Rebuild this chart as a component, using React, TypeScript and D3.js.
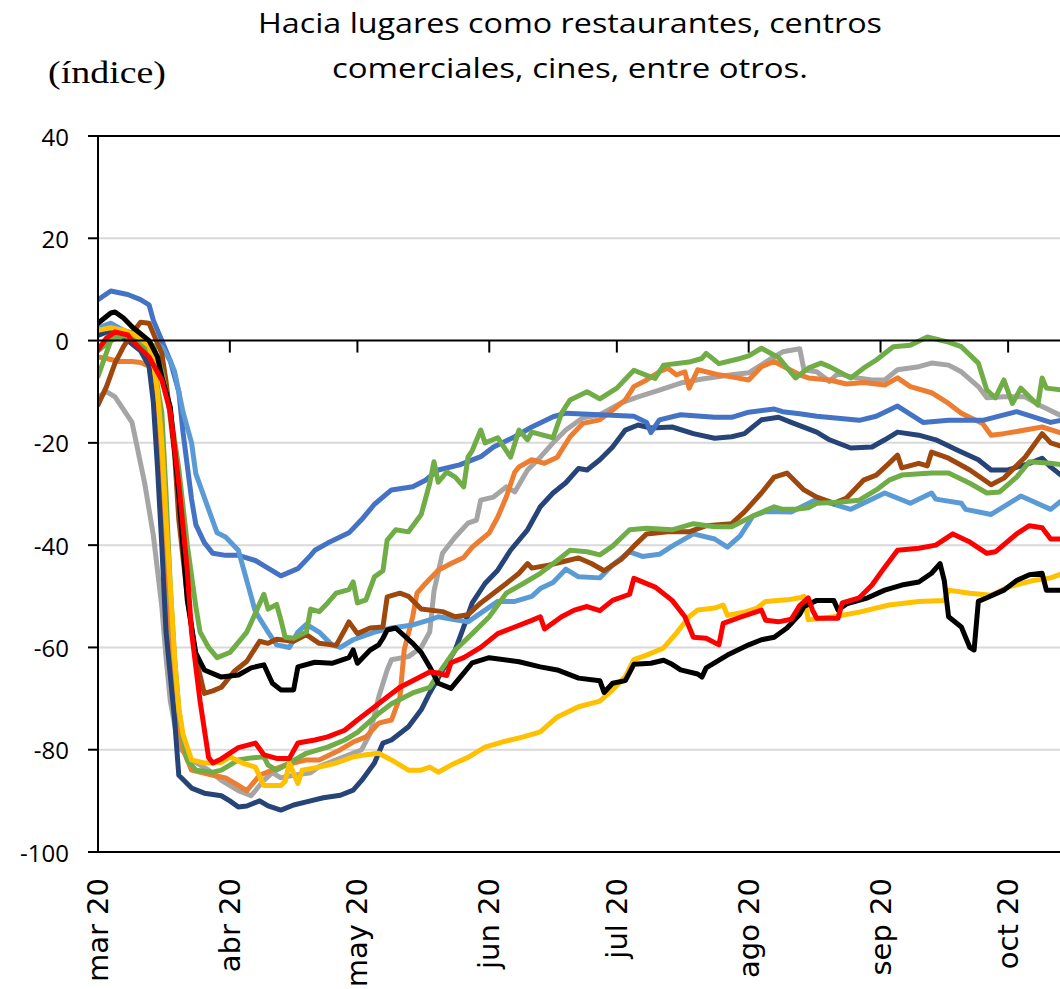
import React from 'react';
import * as d3 from 'd3';

type Pt = [number, number];

const START = Date.UTC(2020, 2, 1);
const LAST_DAY = 226.2;
const monthLabels = ['mar 20', 'abr 20', 'may 20', 'jun 20', 'jul 20', 'ago 20', 'sep 20', 'oct 20'];
const yTicks = [40, 20, 0, -20, -40, -60, -80, -100];
const gridValues = [20, -20, -40, -60, -80];
const solidValues = [40, 0, -100];
const titleLines = ['Hacia lugares como restaurantes, centros', 'comerciales, cines, entre otros.'];
const unitLabel = '(índice)';

const blue: Pt[] = [[0,8],[3,9.7],[7,9],[10,8],[12,7],[13,4],[15,0],[17,-4],[19,-10],[20,-18],[22,-31],[23,-36],[25,-39.5],[27,-41.6],[30,-42],[33,-42],[37,-43],[39,-44],[43,-46],[47,-44.6],[50,-42],[51,-41],[54,-39.6],[59,-37.6],[62,-35],[65,-32],[69,-29.2],[74,-28.6],[77,-27.3],[80,-25.3],[85,-24.3],[90,-22.7],[93,-20.8],[98,-18.8],[102,-16.9],[107,-14.9],[110,-14.2],[118,-14.5],[126,-14.8],[129,-16],[130,-18],[132,-15.5],[137,-14.5],[145,-15],[149,-15],[153,-14],[159,-13.4],[161,-13.9],[165,-14.3],[169,-14.8],[179,-15.6],[183,-14.8],[188,-12.8],[194,-16],[200,-15.6],[208,-15.6],[216,-13.9],[224,-16],[227,-15.5]];

const lightBlue: Pt[] = [[0,2.5],[3,3.4],[6,2],[9,0],[12,-1],[15,-1.2],[17,-4],[18,-6],[20,-14],[22,-20],[23,-26],[26,-33],[28,-37.6],[30,-38.4],[33,-41],[35,-47],[37,-53],[40,-57],[42,-59.5],[45,-60],[47,-57],[49,-55.5],[52,-57],[55,-59.5],[57,-60],[60,-58.5],[65,-57],[69,-56.2],[74,-55.6],[78,-54.6],[80,-54],[84,-54.6],[87,-55],[91,-52.7],[94,-51],[98,-51],[102,-50],[104,-48.5],[107,-47.3],[110,-44.7],[113,-46.2],[118,-46.4],[121,-43.9],[125,-41.3],[128,-42.2],[132,-41.8],[135,-40.2],[140,-37.8],[145,-38.8],[148,-40.4],[151,-38.2],[154,-34.3],[157,-33.4],[163,-33.5],[169,-31],[177,-33],[185,-29.8],[191,-31.8],[196,-29.8],[197,-31],[203,-31.8],[204,-33],[210,-34],[217,-30.4],[224,-33],[227,-31]];

const greenTop: Pt[] = [[0,-7],[3,0],[6,2],[8,1.5],[11,0],[13,-1],[15,-6],[17,-14],[19,-25],[21,-40],[23,-52],[24,-57],[26,-60],[28,-62],[31,-61],[33,-59],[35,-57],[37,-53.3],[39,-49.6],[40,-52.5],[42,-51.6],[43,-54.6],[44,-58],[46,-58.2],[49,-57],[50,-52.5],[52,-53],[54,-51.3],[56,-49.4],[59,-48.7],[60,-47.2],[61,-51.3],[63,-50.7],[65,-46.2],[67,-45],[68,-39],[70,-37],[73,-37.4],[76,-34],[78,-27.9],[79,-23.7],[80,-27.7],[82,-25.7],[84,-26.7],[86,-28.6],[87,-22.8],[88,-21.5],[90,-17.5],[91,-20],[94,-19],[97,-22.8],[99,-17.5],[101,-19.4],[102,-17.9],[107,-19],[109,-14.2],[111,-11.6],[115,-10],[118,-11.4],[122,-9.3],[126,-5.8],[129,-6.8],[131,-7.4],[133,-4.8],[139,-4.2],[142,-3.5],[143,-2.5],[146,-4.5],[151,-3.5],[153,-3],[156,-1.5],[160,-3.3],[164,-7.3],[167,-5.4],[170,-4.4],[172,-5.1],[177,-7.3],[180,-5.4],[183,-3.8],[187,-1.2],[191,-0.9],[195,0.7],[200,-0.3],[203,-1.2],[207,-4.4],[209,-9.7],[211,-11.2],[213,-7.7],[215,-12.3],[217,-9.3],[219,-11],[221,-12.6],[222,-7.3],[223,-9.3],[227,-9.7]];

const gray: Pt[] = [[0,-11],[2,-10],[4,-11],[6,-13.5],[8,-16],[9,-20],[10,-24],[11,-28],[12,-33],[13,-38],[14,-45],[15,-52],[16,-62],[17,-70.5],[19,-79.5],[22,-82],[26,-84],[29,-86],[33,-88],[36,-89],[38,-87],[39,-86],[41,-84.5],[43,-85.5],[46,-85],[50,-84.5],[52,-83.3],[56,-82],[59,-81],[62,-80],[64,-76.8],[66,-69.7],[68,-64.4],[69,-62.4],[73,-61.8],[76,-60],[78,-57],[79,-49],[81,-41.6],[84,-38.4],[87,-35.7],[89,-35.1],[90,-31.2],[93,-30.6],[96,-28.6],[98,-29.6],[101,-25.3],[104,-22.8],[107,-20],[110,-17.5],[114,-15.1],[118,-14.5],[123,-12.2],[127,-11],[132,-9.7],[137,-8.3],[142,-7.5],[149,-6.7],[153,-6.3],[158,-3.7],[161,-2.2],[165,-1.6],[166,-5.7],[169,-6.1],[172,-8],[174,-6.4],[177,-7.1],[182,-7.7],[185,-7.7],[188,-5.7],[193,-5.1],[196,-4.4],[200,-4.8],[203,-6.1],[207,-9],[209,-11.2],[213,-11],[218,-11],[222,-12.9],[227,-14.9]];

const orange: Pt[] = [[0,-3.2],[2,-3.5],[5,-4.1],[8,-4.1],[10,-4.3],[12,-5],[13,-9],[14,-18],[15,-30],[16,-45],[17,-60],[18,-72],[20,-80],[22,-84],[27,-85],[30,-85.5],[33,-87],[35,-88],[38,-85],[41,-84],[44,-83],[49,-82],[52,-82],[57,-80],[60,-78.5],[63,-77.5],[66,-74.8],[69,-74.2],[71,-69.7],[72,-60.5],[74,-54],[75,-49.4],[77,-47.5],[80,-44.9],[83,-43.6],[86,-42.4],[88,-40.4],[90,-39],[92,-37.6],[94,-34.5],[96,-30.6],[98,-25.7],[99,-24.7],[102,-23.3],[105,-24],[108,-22.8],[111,-18.8],[114,-16.2],[118,-15.5],[121,-13.6],[124,-11.6],[126,-9],[129,-7.7],[132,-6.1],[134,-5.4],[136,-6.7],[138,-6.1],[139,-9.3],[141,-5.7],[146,-6.7],[149,-7.1],[153,-7.7],[156,-5.1],[159,-4.1],[162,-5.4],[165,-6.7],[167,-7.3],[172,-7.7],[176,-8.5],[180,-8.2],[185,-8.7],[188,-7.3],[191,-9],[196,-10.2],[200,-12.3],[203,-14.2],[208,-16.2],[210,-18.5],[213,-18.2],[218,-17.5],[222,-16.9],[227,-18.2]];

const navy: Pt[] = [[0,1],[3,2],[7,0],[10,-2],[12,-5],[13,-12],[14,-25],[15,-40],[16,-57],[18,-74],[19,-85],[22,-87.5],[25,-88.5],[29,-89],[31,-90],[33,-91.2],[35,-91],[38,-90],[40,-91],[43,-91.8],[46,-90.8],[49,-90.2],[53,-89.4],[57,-88.9],[60,-87.9],[62,-86],[65,-82.6],[67,-78.7],[69,-78.1],[73,-75.5],[76,-72.2],[78,-68.9],[81,-64.5],[84,-60.5],[86,-56],[88,-51.3],[91,-47.5],[94,-44.9],[97,-41],[101,-37],[104,-32.5],[107,-29.8],[110,-27.8],[113,-25],[115,-25.3],[118,-23.3],[121,-20.8],[124,-17.5],[127,-16.5],[130,-17.1],[135,-16.9],[140,-18.2],[145,-19.1],[149,-18.8],[152,-18.2],[156,-15.5],[160,-15],[163,-16],[169,-17.9],[172,-19.4],[177,-21],[182,-20.8],[185,-19.4],[188,-17.9],[193,-18.5],[197,-19.4],[202,-21.4],[207,-23.3],[210,-25.3],[214,-25.3],[219,-24],[222,-23],[224,-24.7],[227,-26.7]];

const brown: Pt[] = [[0,-12.6],[2,-9],[4,-4.4],[6,-1.2],[8,1.4],[10,3.6],[12,3.4],[13,1.4],[15,-2.5],[16,-8],[18,-22],[19,-35],[21,-50],[23,-62],[25,-69],[27,-68.5],[29,-67.8],[32,-64.7],[35,-62.7],[38,-58.8],[40,-59.2],[42,-58.4],[46,-58.8],[49,-57.5],[52,-59.2],[56,-59.6],[58,-56.6],[59,-55],[61,-57.3],[64,-56.2],[67,-56],[68,-50.1],[71,-49.4],[73,-50],[76,-52.5],[81,-53],[84,-54],[87,-53.6],[90,-51.3],[93,-49.4],[96,-47.5],[99,-45.5],[101,-43.6],[102,-44.5],[106,-43.9],[109,-43.3],[113,-42.5],[116,-43.6],[119,-45],[123,-42.8],[126,-40.2],[129,-37.8],[134,-37.4],[139,-37.4],[143,-36.2],[149,-35.8],[152,-33.5],[156,-29.8],[159,-26.7],[162,-25.9],[166,-29.2],[169,-30.6],[173,-31.8],[176,-30.8],[180,-27.3],[183,-26.3],[186,-24],[188,-22.4],[189,-24.9],[193,-24],[195,-24.5],[196,-21.8],[200,-23],[205,-25.3],[210,-28.2],[213,-26.9],[218,-22.8],[222,-18.2],[224,-20],[227,-20.8]];

const greenLow: Pt[] = [[0,-2],[3,0],[6,1],[9,0.5],[12,-2],[13,-4],[15,-14],[16,-30],[17,-48],[18,-62],[19,-72],[20,-78],[21,-82],[23,-84],[27,-84.4],[29,-84],[31,-83],[33,-82],[36,-81.6],[39,-81.4],[40,-83],[42,-84],[45,-82.6],[49,-80.7],[54,-79.5],[58,-78.1],[61,-76.6],[66,-72.9],[69,-71],[74,-68.9],[78,-67.8],[81,-64],[84,-60.5],[88,-57.3],[92,-54],[96,-49.4],[100,-47.5],[104,-45.5],[108,-43],[111,-41],[115,-41.3],[118,-41.9],[121,-40.2],[125,-37],[129,-36.7],[135,-37],[140,-35.8],[145,-36.4],[149,-36.4],[154,-34.3],[159,-32.5],[161,-33],[164,-33],[167,-32.7],[169,-31.8],[174,-31.6],[179,-31.2],[183,-29.2],[186,-27.3],[189,-26.3],[196,-25.9],[200,-25.9],[205,-27.9],[209,-29.8],[212,-29.6],[216,-26.7],[219,-23.7],[224,-24],[227,-24.3]];

const red: Pt[] = [[0,-1.8],[2,0.5],[4,1.7],[7,1.1],[8,0],[12,-3.2],[15,-7.7],[17,-14],[19,-28],[21,-45],[22,-57],[24,-70.5],[26,-81.5],[27,-82.6],[29,-81.8],[33,-79.6],[37,-78.7],[39,-81],[42,-81.7],[45,-81.7],[47,-78.7],[51,-78.1],[54,-77.5],[58,-76.2],[61,-74.2],[64,-72.3],[68,-69.7],[71,-67.8],[74,-66.5],[78,-64.8],[80,-65],[82,-65.5],[83,-63],[86,-62],[90,-60],[94,-57.3],[98,-56],[102,-54.7],[104,-54],[105,-56.4],[109,-54],[112,-52.7],[115,-52],[118,-52.8],[121,-50.8],[125,-49.6],[126,-46.5],[131,-48.2],[135,-50.8],[138,-54],[140,-58],[143,-58.2],[146,-59.5],[147,-55.3],[151,-54.1],[156,-52.7],[157,-54.7],[160,-55],[163,-54.5],[165,-51.8],[167,-50.3],[168,-52.7],[169,-54.3],[174,-54.3],[175,-51.3],[179,-50.3],[182,-47.8],[185,-44.3],[188,-41],[193,-40.6],[197,-40],[201,-37.8],[205,-39.4],[209,-41.6],[211,-41.3],[216,-37.8],[219,-36.2],[222,-36.6],[224,-38.8],[227,-38.8]];

const black: Pt[] = [[0,3.4],[3,5.4],[4,5.6],[6,4.4],[8,2.7],[12,0],[14,-3.2],[15,-7.1],[17,-13],[19,-30],[21,-50.8],[23,-61.1],[25,-64.4],[29,-65.8],[33,-65.4],[36,-64],[39,-63.4],[41,-67],[43,-68.3],[46,-68.3],[47,-63.8],[51,-62.9],[55,-63.1],[59,-62],[60,-60.5],[61,-63.1],[64,-60.5],[66,-59.5],[67,-58.2],[68,-56.6],[70,-56.2],[74,-59.2],[76,-61],[78,-63.8],[80,-67],[83,-68],[85,-66],[88,-63],[92,-62],[99,-62.8],[104,-63.8],[108,-64.4],[113,-66],[118,-66.5],[119,-68.8],[121,-67],[124,-66.5],[126,-63.3],[130,-63.1],[133,-62.5],[135,-63.3],[137,-64.4],[141,-65.2],[142,-65.8],[143,-64],[148,-61.5],[153,-59.5],[156,-58.5],[159,-58],[162,-56.2],[165,-53.5],[166,-52],[169,-50.8],[173,-50.8],[174,-52.7],[176,-51.5],[181,-50.3],[185,-48.8],[189,-47.8],[193,-47.2],[196,-45.5],[198,-43.6],[199,-47],[200,-54],[203,-56],[205,-60],[206,-60.5],[207,-51],[209,-50.3],[213,-48.8],[216,-46.9],[219,-45.8],[222,-45.5],[223,-48.8],[227,-48.8]];

const yellow: Pt[] = [[0,2],[3,2.5],[6,2],[9,1],[12,-1],[13,-4],[14,-10],[15,-20],[16,-35],[17,-48],[18,-62],[19,-72],[20,-77],[22,-82],[25,-82.6],[29,-82.5],[31,-81.4],[34,-82.6],[37,-83.4],[39,-87],[43,-87],[44,-86.2],[45,-82.6],[47,-86.6],[48,-84],[52,-83.4],[56,-82.6],[60,-81.4],[63,-81],[66,-80.7],[69,-82],[73,-84],[76,-84],[78,-83.4],[80,-84.4],[83,-83],[87,-81.5],[91,-79.5],[95,-78.5],[100,-77.5],[104,-76.5],[108,-73.6],[113,-71.6],[118,-70.5],[121,-68.3],[124,-65.7],[126,-62.4],[129,-61.5],[133,-60.1],[136,-57.2],[139,-54],[141,-52.7],[145,-52.3],[147,-51.7],[148,-53.7],[152,-53.1],[155,-52.3],[157,-51],[162,-50.7],[165,-50.3],[166,-50],[167,-54.6],[173,-54],[179,-53.1],[186,-51.7],[193,-51],[199,-50.8],[200,-48.8],[205,-49.4],[210,-49.8],[214,-48.2],[220,-46.9],[224,-46.4],[227,-45.5]];

const seriesList: { data: Pt[]; color: string }[] = [
  { data: gray, color: '#A5A5A5' },
  { data: orange, color: '#ED7D31' },
  { data: navy, color: '#264478' },
  { data: blue, color: '#4472C4' },
  { data: lightBlue, color: '#5B9BD5' },
  { data: brown, color: '#9E480E' },
  { data: greenLow, color: '#70AD47' },
  { data: greenTop, color: '#70AD47' },
  { data: yellow, color: '#FFC000' },
  { data: black, color: '#000000' },
  { data: red, color: '#FF0000' },
];

const dayToDate = (d: number) => new Date(START + d * 86400000);

export default function App() {
  const W = 1060;
  const H = 989;
  const left = 98;
  const x = d3.scaleUtc().domain([dayToDate(0), dayToDate(LAST_DAY)]).range([left, 1060]);
  const y = d3.scaleLinear().domain([-100, 40]).range([852, 136]);
  const line = d3
    .line<Pt>()
    .x((p) => x(dayToDate(p[0])))
    .y((p) => y(p[1]));
  const months = d3.utcMonth.range(dayToDate(0), dayToDate(LAST_DAY));

  return (
    <svg width={W} height={H} style={{ position: 'absolute', left: 0, top: 0, background: '#fff' }}>
      <defs>
        <clipPath id="plot">
          <rect x={left} y={100} width={W - left} height={800} />
        </clipPath>
      </defs>
      <rect x={0} y={0} width={W} height={H} fill="#fff" />
      {titleLines.map((t, i) => (
        <text
          key={t}
          x={570}
          y={33 + i * 45}
          textAnchor="middle"
          fontFamily="'Open Sans', sans-serif"
          fontSize={27}
          fill="#000"
          textLength={i === 0 ? 624 : 476}
          lengthAdjust="spacingAndGlyphs"
        >
          {t}
        </text>
      ))}
      <text x={48} y={83} fontFamily="'Liberation Serif', serif" fontSize={32} fill="#000" textLength={118} lengthAdjust="spacingAndGlyphs">
        {unitLabel}
      </text>
      {gridValues.map((v) => (
        <line key={'g' + v} x1={left} x2={W} y1={y(v)} y2={y(v)} stroke="#D9D9D9" strokeWidth={2} />
      ))}
      <g clipPath="url(#plot)">
        {seriesList.map((s, i) => (
          <path
            key={i}
            d={line(s.data) || ''}
            fill="none"
            stroke={s.color}
            strokeWidth={5}
            strokeLinejoin="round"
            strokeLinecap="round"
          />
        ))}
      </g>
      {solidValues.map((v) => (
        <line key={'s' + v} x1={left - 1} x2={W} y1={y(v)} y2={y(v)} stroke="#000" strokeWidth={2} />
      ))}
      {months.slice(1).map((m) => (
        <line key={'t' + m.getTime()} x1={x(m)} x2={x(m)} y1={y(0)} y2={y(0) + 12} stroke="#000" strokeWidth={2} />
      ))}
      <line x1={left} x2={left} y1={y(40) - 1} y2={y(-100) + 1} stroke="#000" strokeWidth={2} />
      {yTicks.map((v) => (
        <g key={'y' + v}>
          <line x1={left - 10} x2={left} y1={y(v)} y2={y(v)} stroke="#000" strokeWidth={2} />
          <text
            x={69}
            y={y(v)}
            textAnchor="end"
            dominantBaseline="central"
            fontFamily="'Open Sans', sans-serif"
            fontSize={24}
            fill="#000"
          >
            {v}
          </text>
        </g>
      ))}
      {months.map((m, i) => (
        <text
          key={'m' + i}
          transform={`translate(${x(m)},878) rotate(-90)`}
          textAnchor="end"
          dominantBaseline="central"
          fontFamily="'DejaVu Sans', sans-serif"
          fontSize={29}
          fill="#000"
        >
          {monthLabels[i]}
        </text>
      ))}
    </svg>
  );
}
